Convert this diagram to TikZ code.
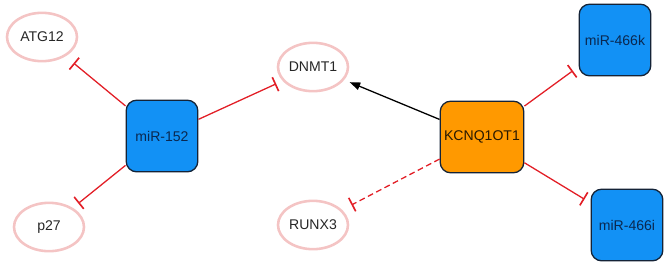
\documentclass[tikz,border=0pt]{standalone}
\usepackage{fontspec}
\setmainfont{Liberation Sans}
\usetikzlibrary{arrows.meta,shapes.geometric}

\definecolor{mirblue}{RGB}{18,145,245}
\definecolor{lncorange}{RGB}{255,153,0}
\definecolor{boxline}{RGB}{20,35,55}
\definecolor{genepink}{RGB}{244,196,196}
\definecolor{inhred}{RGB}{226,30,38}

\tikzset{
  gene/.style={ellipse,draw=genepink,line width=2.2pt,minimum width=2.1cm,minimum height=1.45cm,inner sep=0pt,text=black!85},
  mirbox/.style={rectangle,rounded corners=9pt,draw=boxline,line width=1.1pt,fill=mirblue,minimum size=2.15cm,text={rgb,255:red,10;green,40;blue,80}},
  lncbox/.style={mirbox,fill=lncorange,text={rgb,255:red,40;green,25;blue,0}},
  inhibit/.style={draw=inhred,line width=1.1pt,-{Bar[width=13pt,line width=1.4pt]},shorten >=6pt},
  activate/.style={draw=black,line width=1.1pt,-{Triangle[length=9pt,width=6.5pt]},shorten >=5pt}
}

\begin{document}
\begin{tikzpicture}[x=0.03cm,y=-0.03cm,font=\fontsize{12}{14}\selectfont]
        \useasboundingbox (0,0) rectangle (668,267);
        \draw (162,136) node[mirbox] (M152) {miR-152};
        \draw (482,137) node[lncbox] (KCN) {KCNQ1OT1};
        \draw (615,40) node[mirbox] (M466k) {miR-466k};
        \draw (627,225) node[mirbox] (M466i) {miR-466i};
        \draw (42,37) node[gene] (ATG) {ATG12};
        \draw (49,227) node[gene] (P27) {p27};
        \draw (313,67) node[gene] (DNMT) {DNMT1};
        \draw (313,225) node[gene] (RUNX) {RUNX3};
        \draw[inhibit,shorten >=9pt] (M152)--(ATG);
        \draw[inhibit] (M152)--(P27);
        \draw[inhibit] (M152)--(DNMT);
        \draw[activate] (KCN)--(DNMT);
        \draw[inhibit,dash pattern=on 5pt off 3pt,shorten >=9pt] (KCN)--(RUNX);
        \draw[inhibit] (KCN)--(M466k);
        \draw[inhibit] (KCN)--(M466i);
    \end{tikzpicture}
\end{document}
